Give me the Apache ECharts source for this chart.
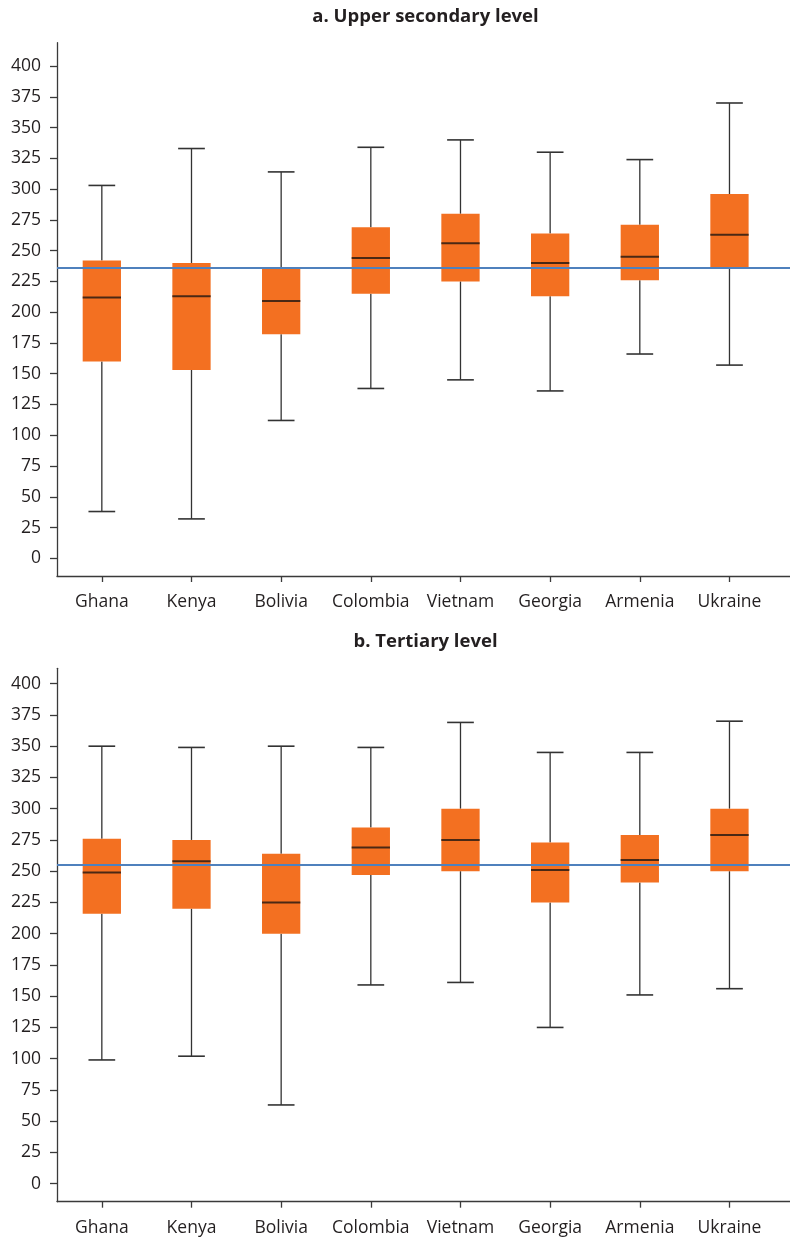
<!DOCTYPE html>
<html>
<head>
<meta charset="utf-8">
<script src="https://cdn.jsdelivr.net/npm/echarts@6/dist/echarts.min.js"></script>
<style>
  html, body { margin: 0; padding: 0; background: #fff; }
  #chart { width: 790px; height: 1240px; }
</style>
</head>
<body>
<div id="chart"></div>
<script>
// Countries on the horizontal axis
var countries = ['Ghana', 'Kenya', 'Bolivia', 'Colombia', 'Vietnam', 'Georgia', 'Armenia', 'Ukraine'];

// Score distributions: [min, Q1, median, Q3, max] per country
var upperSecondary = [
  [38, 160, 212, 242, 303],
  [32, 153, 213, 240, 333],
  [112, 182, 209, 236, 314],
  [138, 215, 244, 269, 334],
  [145, 225, 256, 280, 340],
  [136, 213, 240, 264, 330],
  [166, 226, 245, 271, 324],
  [157, 236, 263, 296, 370]
];
var tertiary = [
  [99, 216, 249, 276, 350],
  [102, 220, 258, 275, 349],
  [63, 200, 225, 264, 350],
  [159, 247, 269, 285, 349],
  [161, 250, 275, 300, 369],
  [125, 225, 251, 273, 345],
  [151, 241, 259, 279, 345],
  [156, 250, 279, 300, 370]
];

// Reference (average) levels drawn as horizontal lines
var upperSecondaryMean = 236;
var tertiaryMean = 255;

// Y tick values
var yTicks = [0, 25, 50, 75, 100, 125, 150, 175, 200, 225, 250, 275, 300, 325, 350, 375, 400];

var panelTitles = ['a. Upper secondary level', 'b. Tertiary level'];

var ORANGE = '#F37021';
var BLUE = '#4F81BD';
var INK = '#231F20';
var AXIS = '#3a3a3a';
var FONT = '"Open Sans", "Noto Sans", sans-serif';

var xTicks = countries.map(function (_, i) { return i; });

function boxData(stats) {
  return stats.map(function (s, i) { return [i, s[0], s[1], s[2], s[3], s[4]]; });
}

function renderBox(params, api) {
  var x = api.value(0);
  var low = api.coord([x, api.value(1)]);
  var q1 = api.coord([x, api.value(2)]);
  var med = api.coord([x, api.value(3)]);
  var q3 = api.coord([x, api.value(4)]);
  var high = api.coord([x, api.value(5)]);
  var band = api.size([1, 0])[0];
  var boxW = band * 0.427;
  var capW = band * 0.298;
  var cx = med[0];
  var whisker = { stroke: '#333333', lineWidth: 1.3 };
  var cap = { stroke: '#333333', lineWidth: 1.6 };
  return {
    type: 'group',
    children: [
      { type: 'line', shape: { x1: cx, y1: high[1], x2: cx, y2: q3[1] }, style: whisker },
      { type: 'line', shape: { x1: cx, y1: q1[1], x2: cx, y2: low[1] }, style: whisker },
      { type: 'line', shape: { x1: cx - capW / 2, y1: high[1], x2: cx + capW / 2, y2: high[1] }, style: cap },
      { type: 'line', shape: { x1: cx - capW / 2, y1: low[1], x2: cx + capW / 2, y2: low[1] }, style: cap },
      { type: 'rect', shape: { x: cx - boxW / 2, y: q3[1], width: boxW, height: q1[1] - q3[1] }, style: { fill: ORANGE } },
      { type: 'line', shape: { x1: cx - boxW / 2, y1: med[1], x2: cx + boxW / 2, y2: med[1] }, style: { stroke: '#4a2814', lineWidth: 2 } }
    ]
  };
}

function xAxisFor(gridIndex) {
  return {
    type: 'value',
    gridIndex: gridIndex,
    min: -0.5,
    max: 7.675,
    axisLine: { show: true, onZero: false, lineStyle: { color: AXIS, width: 1.3 } },
    axisTick: { show: true, length: 6, customValues: xTicks, lineStyle: { color: AXIS, width: 1.3 } },
    axisLabel: {
      customValues: xTicks,
      margin: 17,
      color: INK,
      fontFamily: FONT,
      fontSize: 17.5,
      formatter: function (v) { return countries[Math.round(v)]; }
    },
    splitLine: { show: false }
  };
}

function yAxisFor(gridIndex, max) {
  return {
    type: 'value',
    gridIndex: gridIndex,
    min: -14.4,
    max: max,
    axisLine: { show: true, onZero: false, lineStyle: { color: AXIS, width: 1.3 } },
    axisTick: { show: true, length: 7, customValues: yTicks, lineStyle: { color: AXIS, width: 1.3 } },
    axisLabel: {
      customValues: yTicks,
      margin: 16,
      color: INK,
      fontFamily: FONT,
      fontSize: 17.5
    },
    splitLine: { show: false }
  };
}

function meanLine(idx, value) {
  return {
    type: 'line',
    xAxisIndex: idx,
    yAxisIndex: idx,
    data: [],
    z: 1,
    silent: true,
    markLine: {
      symbol: ['none', 'none'],
      silent: true,
      label: { show: false },
      lineStyle: { color: BLUE, width: 2, type: 'solid' },
      data: [{ yAxis: value }]
    }
  };
}

function boxSeries(idx, stats) {
  return {
    type: 'custom',
    xAxisIndex: idx,
    yAxisIndex: idx,
    z: 3,
    renderItem: renderBox,
    encode: { x: 0, y: [1, 2, 3, 4, 5] },
    data: boxData(stats)
  };
}

var chart = echarts.init(document.getElementById('chart'), null, { renderer: 'canvas' });
chart.setOption({
  backgroundColor: '#ffffff',
  animation: false,
  title: [
    {
      text: panelTitles[0], left: 425.5, top: 7, textAlign: 'center', padding: 0,
      textStyle: { fontFamily: FONT, fontSize: 18.5, fontWeight: 'bold', color: INK }
    },
    {
      text: panelTitles[1], left: 425.5, top: 632, textAlign: 'center', padding: 0,
      textStyle: { fontFamily: FONT, fontSize: 18.5, fontWeight: 'bold', color: INK }
    }
  ],
  grid: [
    { left: 57, right: 0, top: 42.7, height: 533.3 },
    { left: 57, right: 0, top: 668.3, height: 533.4 }
  ],
  xAxis: [xAxisFor(0), xAxisFor(1)],
  yAxis: [yAxisFor(0, 419), yAxisFor(1, 412.3)],
  series: [
    meanLine(0, upperSecondaryMean),
    meanLine(1, tertiaryMean),
    boxSeries(0, upperSecondary),
    boxSeries(1, tertiary)
  ]
});
</script>
</body>
</html>
